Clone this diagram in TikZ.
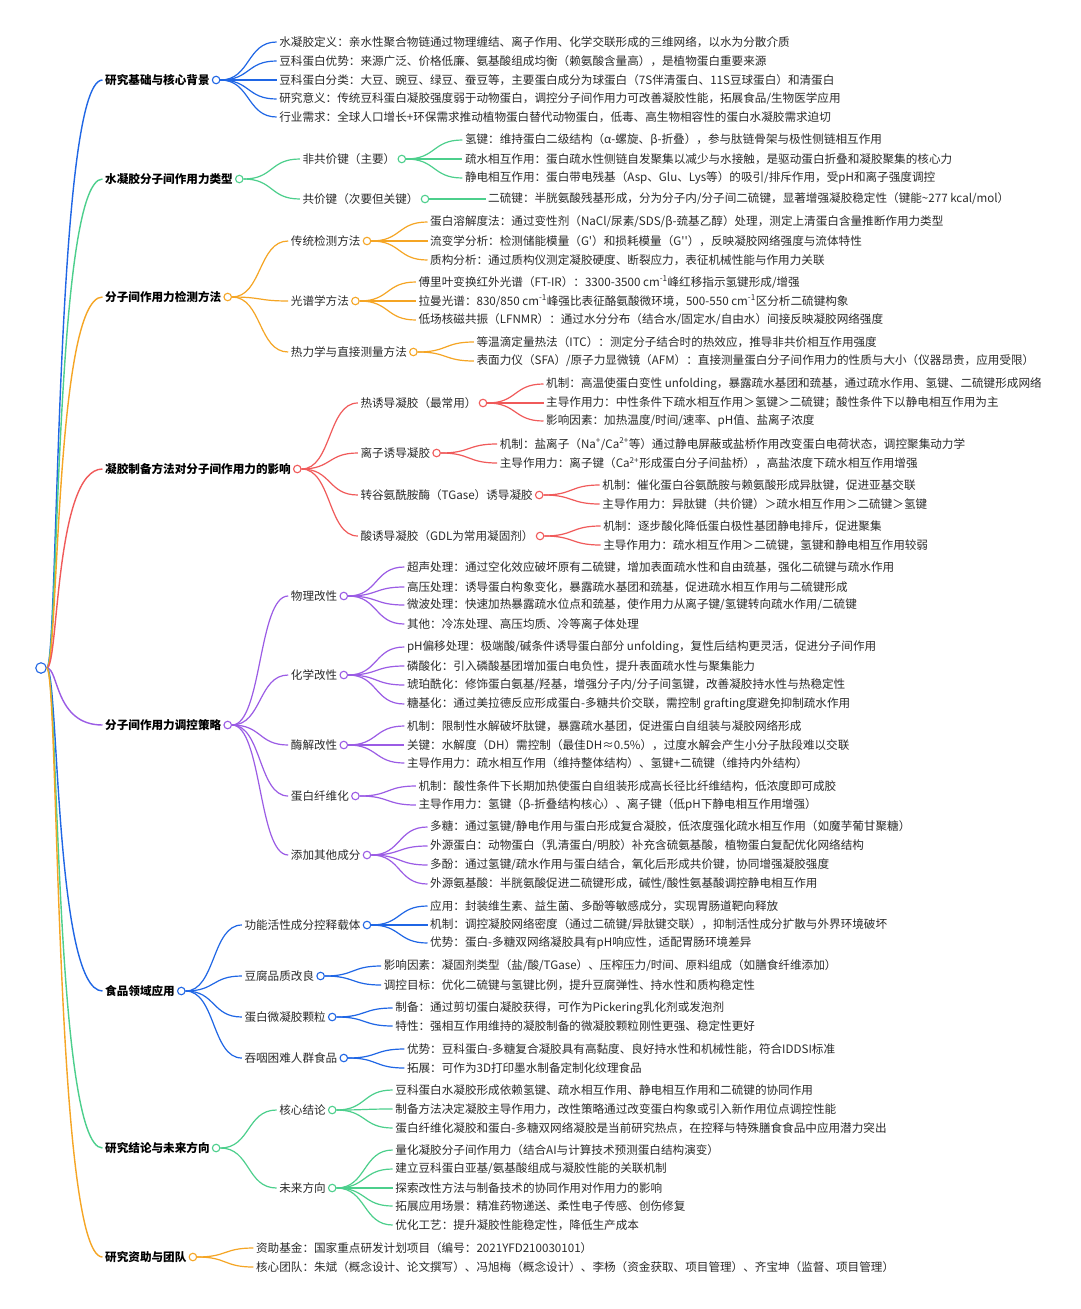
\documentclass[tikz,border=0pt]{standalone}
\usepackage{fontspec}
\setmainfont{Noto Sans CJK SC}
\usetikzlibrary{calc}
\definecolor{cB}{HTML}{1F66E5}
\definecolor{cG}{HTML}{4CCF8C}
\definecolor{cO}{HTML}{F5A524}
\definecolor{cR}{HTML}{F05A5A}
\definecolor{cP}{HTML}{9B5CE5}
\definecolor{txtc}{HTML}{2B2B2B}
\newcommand\Top[4]{%
  \node[lone,anchor=west] (#1) at (102.5,#2) {#4};
  \node[hub=#3] (#1o) at ([xshift=3.8pt]#1.east) {};
  \draw[rconn=#3] (root.east) .. controls +(12,0) and +(-48,0) .. (#1.west);}
\newcommand\Mid[5]{%
  \coordinate (#2t) at ([xshift=60.5pt]#1o.center);
  \node[txt,anchor=west] (#2) at (#2t |- 0,#3) {#5};
  \node[hub=#4] (#2o) at ([xshift=3.8pt]#2.east) {};
  \draw[conn=#4] (#1o.east) .. controls +(30,0) and +(-30,0) .. (#2.west);}
\newcommand\Leaf[5]{%
  \coordinate (#2t) at ([xshift=60.5pt]#1o.center);
  \node[txt,anchor=west] (#2) at (#2t |- 0,#3) {#5};
  \draw[conn=#4] (#1o.east) .. controls +(30,0) and +(-30,0) .. (#2.west);}
\newcommand\supx[1]{\textsuperscript{#1}}
\newcommand\apos{\XeTeXglyph\XeTeXcharglyph"27\relax}
\begin{document}
\begin{tikzpicture}[x=1pt,y=-1pt,
  font=\fontsize{11.6}{14}\selectfont,
  hub/.style={circle,draw=#1,fill=white,line width=1.1pt,minimum size=7.5pt,inner sep=0pt},
  lone/.style={font=\fontsize{11.6}{14}\selectfont\bfseries,text=black,inner xsep=2.5pt,inner ysep=1pt},
  txt/.style={text=txtc,inner xsep=2.5pt,inner ysep=1pt},
  conn/.style={draw=#1,line width=1.2pt},
  rconn/.style={draw=#1,line width=1.4pt}]
\fill[white] (0,0) rectangle (1080,1309);
\useasboundingbox (0,0) rectangle (1080,1309);
\node[hub=cB,minimum size=10.5pt] (root) at (41,668) {};
% ---------- branch 1
\Top{b1}{80}{cB}{研究基础与核心背景}
\Leaf{b1}{b1a}{42}{cB}{水凝胶定义：亲水性聚合物链通过物理缠结、离子作用、化学交联形成的三维网络，以水为分散介质}
\Leaf{b1}{b1b}{61}{cB}{豆科蛋白优势：来源广泛、价格低廉、氨基酸组成均衡（赖氨酸含量高），是植物蛋白重要来源}
\Leaf{b1}{b1c}{80}{cB}{豆科蛋白分类：大豆、豌豆、绿豆、蚕豆等，主要蛋白成分为球蛋白（7S伴清蛋白、11S豆球蛋白）和清蛋白}
\Leaf{b1}{b1d}{99}{cB}{研究意义：传统豆科蛋白凝胶强度弱于动物蛋白，调控分子间作用力可改善凝胶性能，拓展食品/生物医学应用}
\Leaf{b1}{b1e}{117}{cB}{行业需求：全球人口增长+环保需求推动植物蛋白替代动物蛋白，低毒、高生物相容性的蛋白水凝胶需求迫切}
% ---------- branch 2
\Top{b2}{179}{cG}{水凝胶分子间作用力类型}
\Mid{b2}{b2a}{159}{cG}{非共价键（主要）}
\Leaf{b2a}{b2a1}{140}{cG}{氢键：维持蛋白二级结构（α-螺旋、β-折叠），参与肽链骨架与极性侧链相互作用}
\Leaf{b2a}{b2a2}{159}{cG}{疏水相互作用：蛋白疏水性侧链自发聚集以减少与水接触，是驱动蛋白折叠和凝胶聚集的核心力}
\Leaf{b2a}{b2a3}{178}{cG}{静电相互作用：蛋白带电残基（Asp、Glu、Lys等）的吸引/排斥作用，受pH和离子强度调控}
\Mid{b2}{b2b}{199}{cG}{共价键（次要但关键）}
\Leaf{b2b}{b2b1}{199}{cG}{二硫键：半胱氨酸残基形成，分为分子内/分子间二硫键，显著增强凝胶稳定性（键能\char126 277 kcal/mol）}
% ---------- branch 3
\Top{b3}{297}{cO}{分子间作用力检测方法}
\Mid{b3}{b3a}{241}{cO}{传统检测方法}
\Leaf{b3a}{b3a1}{222}{cO}{蛋白溶解度法：通过变性剂（NaCl/尿素/SDS/β-巯基乙醇）处理，测定上清蛋白含量推断作用力类型}
\Leaf{b3a}{b3a2}{241}{cO}{流变学分析：检测储能模量（G\apos）和损耗模量（G\apos\apos），反映凝胶网络强度与流体特性}
\Leaf{b3a}{b3a3}{260}{cO}{质构分析：通过质构仪测定凝胶硬度、断裂应力，表征机械性能与作用力关联}
\Mid{b3}{b3b}{301}{cO}{光谱学方法}
\Leaf{b3b}{b3b1}{282}{cO}{傅里叶变换红外光谱（FT-IR）：3300-3500 cm\supx{-1}峰红移指示氢键形成/增强}
\Leaf{b3b}{b3b2}{301}{cO}{拉曼光谱：830/850 cm\supx{-1}峰强比表征酪氨酸微环境，500-550 cm\supx{-1}区分析二硫键构象}
\Leaf{b3b}{b3b3}{320}{cO}{低场核磁共振（LFNMR）：通过水分分布（结合水/固定水/自由水）间接反映凝胶网络强度}
\Mid{b3}{b3c}{352}{cO}{热力学与直接测量方法}
\Leaf{b3c}{b3c1}{342}{cO}{等温滴定量热法（ITC）：测定分子结合时的热效应，推导非共价相互作用强度}
\Leaf{b3c}{b3c2}{361}{cO}{表面力仪（SFA）/原子力显微镜（AFM）：直接测量蛋白分子间作用力的性质与大小（仪器昂贵，应用受限）}
% ---------- branch 4
\Top{b4}{469}{cR}{凝胶制备方法对分子间作用力的影响}
\Mid{b4}{b4a}{403}{cR}{热诱导凝胶（最常用）}
\Leaf{b4a}{b4a1}{384}{cR}{机制：高温使蛋白变性 unfolding，暴露疏水基团和巯基，通过疏水作用、氢键、二硫键形成网络}
\Leaf{b4a}{b4a2}{403}{cR}{主导作用力：中性条件下疏水相互作用＞氢键＞二硫键；酸性条件下以静电相互作用为主}
\Leaf{b4a}{b4a3}{421}{cR}{影响因素：加热温度/时间/速率、pH值、盐离子浓度}
\Mid{b4}{b4b}{453}{cR}{离子诱导凝胶}
\Leaf{b4b}{b4b1}{444}{cR}{机制：盐离子（Na\supx{+}/Ca\supx{2+}等）通过静电屏蔽或盐桥作用改变蛋白电荷状态，调控聚集动力学}
\Leaf{b4b}{b4b2}{463}{cR}{主导作用力：离子键（Ca\supx{2+}形成蛋白分子间盐桥），高盐浓度下疏水相互作用增强}
\Mid{b4}{b4c}{495}{cR}{转谷氨酰胺酶（TGase）诱导凝胶}
\Leaf{b4c}{b4c1}{485}{cR}{机制：催化蛋白谷氨酰胺与赖氨酸形成异肽键，促进亚基交联}
\Leaf{b4c}{b4c2}{504}{cR}{主导作用力：异肽键（共价键）＞疏水相互作用＞二硫键＞氢键}
\Mid{b4}{b4d}{536}{cR}{酸诱导凝胶（GDL为常用凝固剂）}
\Leaf{b4d}{b4d1}{526}{cR}{机制：逐步酸化降低蛋白极性基团静电排斥，促进聚集}
\Leaf{b4d}{b4d2}{545}{cR}{主导作用力：疏水相互作用＞二硫键，氢键和静电相互作用较弱}
% ---------- branch 5
\Top{b5}{725}{cP}{分子间作用力调控策略}
\Mid{b5}{b5a}{596}{cP}{物理改性}
\Leaf{b5a}{b5a1}{567}{cP}{超声处理：通过空化效应破坏原有二硫键，增加表面疏水性和自由巯基，强化二硫键与疏水作用}
\Leaf{b5a}{b5a2}{587}{cP}{高压处理：诱导蛋白构象变化，暴露疏水基团和巯基，促进疏水相互作用与二硫键形成}
\Leaf{b5a}{b5a3}{605}{cP}{微波处理：快速加热暴露疏水位点和巯基，使作用力从离子键/氢键转向疏水作用/二硫键}
\Leaf{b5a}{b5a4}{624}{cP}{其他：冷冻处理、高压均质、冷等离子体处理}
\Mid{b5}{b5b}{675}{cP}{化学改性}
\Leaf{b5b}{b5b1}{647}{cP}{pH偏移处理：极端酸/碱条件诱导蛋白部分 unfolding，复性后结构更灵活，促进分子间作用}
\Leaf{b5b}{b5b2}{666}{cP}{磷酸化：引入磷酸基团增加蛋白电负性，提升表面疏水性与聚集能力}
\Leaf{b5b}{b5b3}{685}{cP}{琥珀酰化：修饰蛋白氨基/羟基，增强分子内/分子间氢键，改善凝胶持水性与热稳定性}
\Leaf{b5b}{b5b4}{704}{cP}{糖基化：通过美拉德反应形成蛋白-多糖共价交联，需控制 grafting度避免抑制疏水作用}
\Mid{b5}{b5c}{745}{cP}{酶解改性}
\Leaf{b5c}{b5c1}{726}{cP}{机制：限制性水解破坏肽键，暴露疏水基团，促进蛋白自组装与凝胶网络形成}
\Leaf{b5c}{b5c2}{745}{cP}{关键：水解度（DH）需控制（最佳DH≈0.5\%），过度水解会产生小分子肽段难以交联}
\Leaf{b5c}{b5c3}{763}{cP}{主导作用力：疏水相互作用（维持整体结构）、氢键+二硫键（维持内外结构）}
\Mid{b5}{b5d}{796}{cP}{蛋白纤维化}
\Leaf{b5d}{b5d1}{786}{cP}{机制：酸性条件下长期加热使蛋白自组装形成高长径比纤维结构，低浓度即可成胶}
\Leaf{b5d}{b5d2}{805}{cP}{主导作用力：氢键（β-折叠结构核心）、离子键（低pH下静电相互作用增强）}
\Mid{b5}{b5e}{855}{cP}{添加其他成分}
\Leaf{b5e}{b5e1}{827}{cP}{多糖：通过氢键/静电作用与蛋白形成复合凝胶，低浓度强化疏水相互作用（如魔芋葡甘聚糖）}
\Leaf{b5e}{b5e2}{846}{cP}{外源蛋白：动物蛋白（乳清蛋白/明胶）补充含硫氨基酸，植物蛋白复配优化网络结构}
\Leaf{b5e}{b5e3}{865}{cP}{多酚：通过氢键/疏水作用与蛋白结合，氧化后形成共价键，协同增强凝胶强度}
\Leaf{b5e}{b5e4}{884}{cP}{外源氨基酸：半胱氨酸促进二硫键形成，碱性/酸性氨基酸调控静电相互作用}
% ---------- branch 6
\Top{b6}{991}{cB}{食品领域应用}
\Mid{b6}{b6a}{925}{cB}{功能活性成分控释载体}
\Leaf{b6a}{b6a1}{906}{cB}{应用：封装维生素、益生菌、多酚等敏感成分，实现胃肠道靶向释放}
\Leaf{b6a}{b6a2}{925}{cB}{机制：调控凝胶网络密度（通过二硫键/异肽键交联），抑制活性成分扩散与外界环境破坏}
\Leaf{b6a}{b6a3}{943}{cB}{优势：蛋白-多糖双网络凝胶具有pH响应性，适配胃肠环境差异}
\Mid{b6}{b6b}{976}{cB}{豆腐品质改良}
\Leaf{b6b}{b6b1}{966}{cB}{影响因素：凝固剂类型（盐/酸/TGase）、压榨压力/时间、原料组成（如膳食纤维添加）}
\Leaf{b6b}{b6b2}{985}{cB}{调控目标：优化二硫键与氢键比例，提升豆腐弹性、持水性和质构稳定性}
\Mid{b6}{b6c}{1017}{cB}{蛋白微凝胶颗粒}
\Leaf{b6c}{b6c1}{1008}{cB}{制备：通过剪切蛋白凝胶获得，可作为Pickering乳化剂或发泡剂}
\Leaf{b6c}{b6c2}{1026}{cB}{特性：强相互作用维持的凝胶制备的微凝胶颗粒刚性更强、稳定性更好}
\Mid{b6}{b6d}{1058}{cB}{吞咽困难人群食品}
\Leaf{b6d}{b6d1}{1049}{cB}{优势：豆科蛋白-多糖复合凝胶具有高黏度、良好持水性和机械性能，符合IDDSI标准}
\Leaf{b6d}{b6d2}{1068}{cB}{拓展：可作为3D打印墨水制备定制化纹理食品}
% ---------- branch 7
\Top{b7}{1148}{cG}{研究结论与未来方向}
\Mid{b7}{b7a}{1110}{cG}{核心结论}
\Leaf{b7a}{b7a1}{1090}{cG}{豆科蛋白水凝胶形成依赖氢键、疏水相互作用、静电相互作用和二硫键的协同作用}
\Leaf{b7a}{b7a2}{1109}{cG}{制备方法决定凝胶主导作用力，改性策略通过改变蛋白构象或引入新作用位点调控性能}
\Leaf{b7a}{b7a3}{1128}{cG}{蛋白纤维化凝胶和蛋白-多糖双网络凝胶是当前研究热点，在控释与特殊膳食食品中应用潜力突出}
\Mid{b7}{b7b}{1188}{cG}{未来方向}
\Leaf{b7b}{b7b1}{1150}{cG}{量化凝胶分子间作用力（结合AI与计算技术预测蛋白结构演变）}
\Leaf{b7b}{b7b2}{1169}{cG}{建立豆科蛋白亚基/氨基酸组成与凝胶性能的关联机制}
\Leaf{b7b}{b7b3}{1188}{cG}{探索改性方法与制备技术的协同作用对作用力的影响}
\Leaf{b7b}{b7b4}{1206}{cG}{拓展应用场景：精准药物递送、柔性电子传感、创伤修复}
\Leaf{b7b}{b7b5}{1225}{cG}{优化工艺：提升凝胶性能稳定性，降低生产成本}
% ---------- branch 8
\Top{b8}{1257}{cO}{研究资助与团队}
\Leaf{b8}{b8a}{1248}{cO}{资助基金：国家重点研发计划项目（编号：2021YFD210030101）}
\Leaf{b8}{b8b}{1267}{cO}{核心团队：朱斌（概念设计、论文撰写）、冯旭梅（概念设计）、李杨（资金获取、项目管理）、齐宝坤（监督、项目管理）}
\end{tikzpicture}
\end{document}
